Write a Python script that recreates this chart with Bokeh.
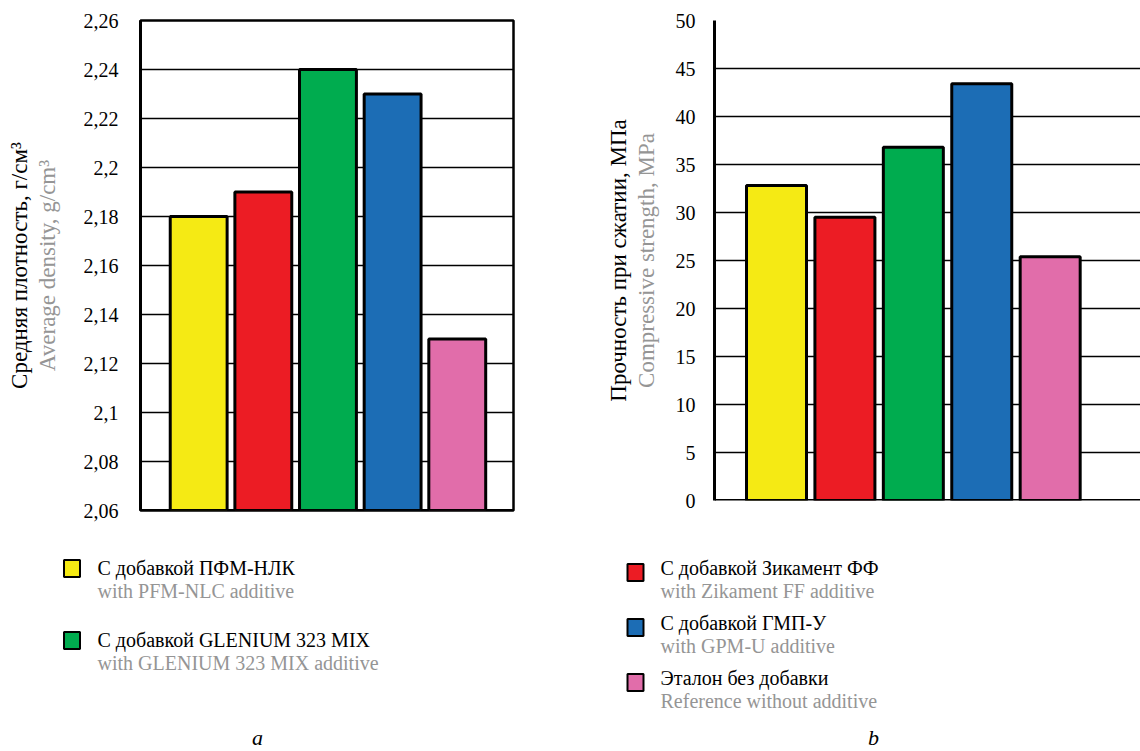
from bokeh.plotting import figure
from bokeh.models import Range1d, FixedTicker, LinearAxis, ColumnDataSource, Span
from bokeh.layouts import column, row
from bokeh.embed import file_html
from bokeh.resources import INLINE
from bokeh.core.properties import value

# ---------------- data ----------------
labels_ru = ["С добавкой ПФМ-НЛК", "С добавкой Зикамент ФФ", "С добавкой GLENIUM 323 MIX",
             "С добавкой ГМП-У", "Эталон без добавки"]
labels_en = ["with PFM-NLC additive", "with Zikament FF additive", "with GLENIUM 323 MIX additive",
             "with GPM-U additive", "Reference without additive"]
colors = ["#F5EA14", "#EC1C24", "#00AC4F", "#1C6DB5", "#E16DAA"]

density = [2.18, 2.19, 2.24, 2.23, 2.13]
strength = [32.8, 29.5, 36.8, 43.4, 25.4]

density_ticks = [2.06, 2.08, 2.1, 2.12, 2.14, 2.16, 2.18, 2.2, 2.22, 2.24, 2.26]
density_tick_labels = ["2,06", "2,08", "2,1", "2,12", "2,14", "2,16", "2,18", "2,2", "2,22", "2,24", "2,26"]
strength_ticks = [0, 5, 10, 15, 20, 25, 30, 35, 40, 45, 50]
strength_tick_labels = ["0", "5", "10", "15", "20", "25", "30", "35", "40", "45", "50"]

legend_a_items = [0, 2]
legend_b_items = [1, 3, 4]

density_label_ru = "Средняя плотность, г/см³"
density_label_en = "Average density, g/cm³"
strength_label_ru = "Прочность при сжатии, МПа"
strength_label_en = "Compressive strength, MPa"

FONT = "Liberation Serif"
GREY = "#959595"


def make_chart(values, ticks, tick_labels, ymin, ymax, xr, width, height,
               borders, bar_width, lab_ru, lab_en, outline, label_standoff,
               en_standoff, ru_standoff):
    p = figure(width=width, height=height, output_backend="svg", toolbar_location=None,
               x_range=Range1d(*xr), y_range=Range1d(ymin, ymax),
               min_border_left=borders[0], min_border_right=borders[1],
               min_border_top=borders[2], min_border_bottom=borders[3])
    p.background_fill_color = "white"
    p.border_fill_color = "white"
    p.outline_line_color = "black" if outline else None
    p.outline_line_width = 2.5

    src = ColumnDataSource(dict(x=list(range(len(values))), top=values, color=colors))
    p.vbar(x="x", top="top", bottom=ymin, width=bar_width, fill_color="color",
           line_color="black", line_width=3, source=src)

    ya = p.yaxis[0]
    ya.ticker = FixedTicker(ticks=ticks)
    ya.major_label_overrides = {t: l for t, l in zip(ticks, tick_labels)}
    ya.major_label_text_font = FONT
    ya.major_label_text_font_size = "20px"
    ya.major_label_text_color = "black"
    ya.major_label_standoff = label_standoff
    ya.major_tick_line_color = None
    ya.minor_tick_line_color = None
    ya.axis_line_color = "black"
    ya.axis_line_width = 3
    ya.axis_label = lab_en
    ya.axis_label_text_font = FONT
    ya.axis_label_text_font_size = "23px"
    ya.axis_label_text_font_style = "normal"
    ya.axis_label_text_color = GREY
    ya.axis_label_standoff = en_standoff

    ax2 = LinearAxis(ticker=FixedTicker(ticks=[]), axis_label=lab_ru,
                     axis_line_color=None, major_tick_line_color=None,
                     minor_tick_line_color=None)
    ax2.axis_label_text_font = FONT
    ax2.axis_label_text_font_size = "23px"
    ax2.axis_label_text_font_style = "normal"
    ax2.axis_label_text_color = "black"
    ax2.axis_label_standoff = ru_standoff
    p.add_layout(ax2, "left")

    p.xaxis.visible = False
    p.add_layout(Span(location=ymin, dimension="width", line_color="black", line_width=3))

    p.xgrid.visible = False
    p.ygrid.ticker = FixedTicker(ticks=ticks)
    p.ygrid.grid_line_color = "black"
    p.ygrid.grid_line_width = 1.5
    return p


def make_legend(items, width, height, sw_x, tx, y0, step, sw_dy, caption, cap_x):
    lp = figure(width=width, height=height, output_backend="svg", toolbar_location=None,
                x_range=Range1d(0, width), y_range=Range1d(height, 0),
                x_axis_location=None, y_axis_location=None, min_border=0)
    lp.grid.visible = False
    lp.outline_line_color = None
    lp.background_fill_color = "white"
    lp.border_fill_color = "white"
    n = len(items)
    y1 = [y0 + step * k for k in range(n)]
    y2 = [y + 23 for y in y1]
    ys = [y + sw_dy for y in y1]
    lp.rect(x=[sw_x] * n, y=ys, width=16, height=17,
            fill_color=[colors[i] for i in items], line_color="black", line_width=2)
    lp.text(x=[tx] * n, y=y1, text=[labels_ru[i] for i in items],
            text_font=value(FONT), text_font_size="20px", text_color="black",
            text_baseline="middle", text_align="left")
    lp.text(x=[tx] * n, y=y2, text=[labels_en[i] for i in items],
            text_font=value(FONT), text_font_size="20px", text_color=GREY,
            text_baseline="middle", text_align="left")
    lp.text(x=[cap_x], y=[height - 2], text=[caption], text_font=value(FONT),
            text_font_size="22px", text_font_style="italic", text_color="black",
            text_baseline="bottom", text_align="center")
    return lp


chart_a = make_chart(density, density_ticks, density_tick_labels, 2.06, 2.26,
                     (-0.9, 4.87), 580, 528, (140, 67, 20, 18), 0.88,
                     density_label_ru, density_label_en, True, 16, 21, 0)
chart_b = make_chart(strength, strength_ticks, strength_tick_labels, 0, 50,
                     (-0.906, 5.32), 560, 518, (134, 0, 20, 18), 0.877,
                     strength_label_ru, strength_label_en, False, 13, 14, 0)

legend_a = make_legend(legend_a_items, 580, 223, 71.5, 97, 39, 72, 1, "a", 257)
legend_b = make_legend(legend_b_items, 560, 233, 55, 80, 49, 55, 5, "b", 293)

layout = row(column(chart_a, row(legend_a)), column(chart_b, row(legend_b)))

open("out.html", "w").write(file_html(layout, INLINE))
